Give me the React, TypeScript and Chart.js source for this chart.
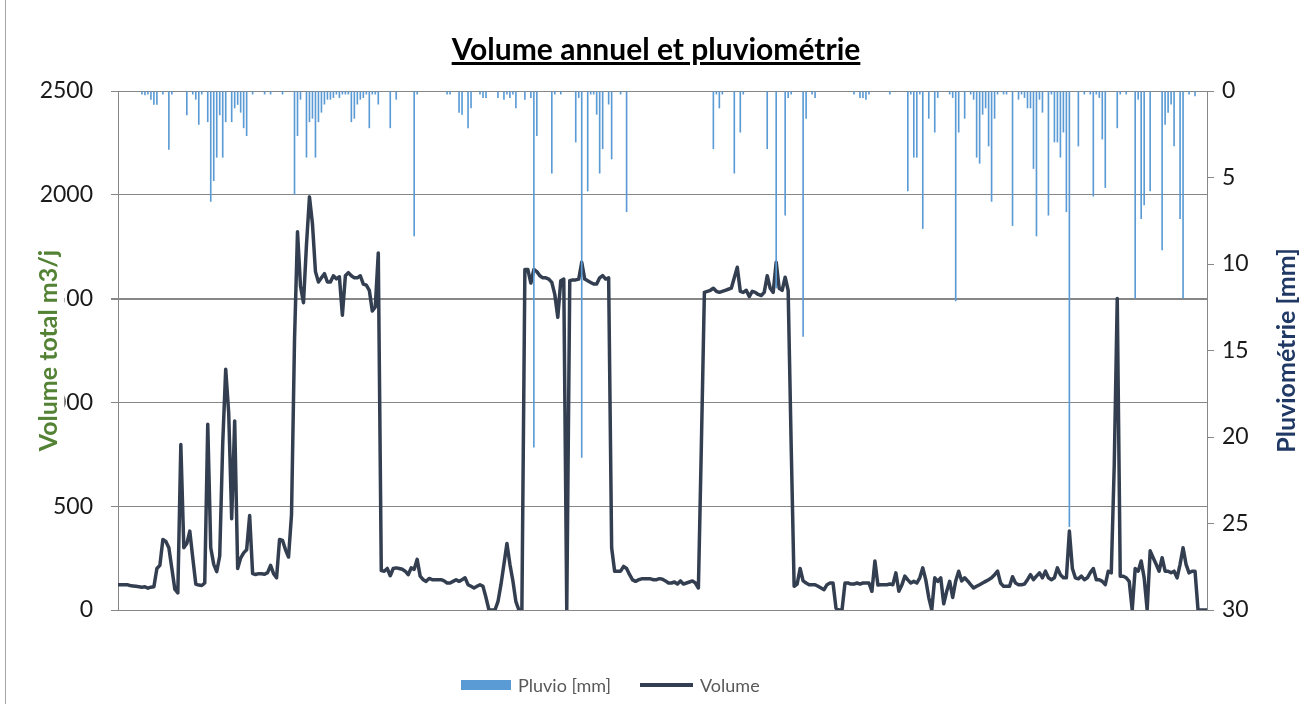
import React, { useEffect, useRef } from "react";
import { Chart, registerables } from "chart.js";

Chart.register(...registerables);

// Daily total volume (m3/j), one value per day of the year
const VOLUME: number[] = [
  122, 122, 122, 122, 118, 116, 114, 112, 110, 112, 105, 110, 112, 200, 215, 340, 330, 300, 200, 100,
  82, 797, 300, 320, 380, 250, 125, 120, 118, 130, 895, 300, 220, 185, 260, 800, 1160, 950, 440, 911,
  200, 250, 275, 290, 455, 175, 171, 175, 175, 172, 180, 215, 175, 155, 340, 335, 290, 255, 460, 1300,
  1822, 1560, 1480, 1760, 1990, 1860, 1630, 1580, 1600, 1620, 1580, 1580, 1610, 1595, 1605, 1420, 1610, 1625, 1610, 1600,
  1600, 1610, 1570, 1565, 1540, 1440, 1460, 1720, 190, 187, 200, 165, 200, 203, 200, 196, 187, 170, 203, 196,
  244, 163, 146, 138, 152, 146, 146, 146, 146, 140, 130, 130, 138, 146, 138, 146, 155, 122, 114, 106,
  114, 122, 114, 60, 0, 0, 0, 40, 122, 220, 320, 220, 140, 40, 0, 0, 1640, 1640, 1575, 1640,
  1630, 1610, 1600, 1600, 1594, 1578, 1520, 1410, 1586, 1594, 0, 1586, 1590, 1590, 1594, 1675, 1594, 1586, 1578, 1570,
  1570, 1600, 1611, 1594, 1600, 300, 187, 187, 187, 210, 200, 170, 145, 138, 146, 150, 150, 150, 150, 146,
  146, 151, 148, 140, 130, 130, 135, 125, 140, 125, 130, 135, 140, 130, 106, 800, 1530, 1535, 1540, 1550,
  1535, 1530, 1535, 1540, 1545, 1550, 1600, 1651, 1535, 1530, 1540, 1510, 1535, 1530, 1520, 1515, 1530, 1610, 1550, 1530,
  1675, 1550, 1540, 1603, 1540, 800, 114, 125, 200, 140, 130, 122, 122, 122, 114, 106, 98, 122, 130, 130,
  8, 0, 0, 130, 130, 125, 125, 130, 125, 130, 130, 130, 90, 236, 120, 122, 122, 122, 125, 122,
  179, 90, 120, 163, 145, 130, 138, 130, 155, 203, 145, 60, 0, 155, 138, 155, 30, 90, 138, 60,
  140, 187, 140, 155, 140, 122, 106, 114, 122, 130, 138, 146, 155, 170, 187, 130, 114, 114, 114, 160,
  130, 122, 122, 125, 146, 170, 146, 163, 179, 155, 187, 155, 146, 155, 203, 170, 155, 155, 380, 200,
  155, 150, 163, 146, 155, 180, 200, 146, 146, 138, 122, 187, 179, 700, 1500, 163, 163, 155, 138, 0,
  200, 187, 236, 155, 0, 285, 252, 220, 187, 252, 187, 187, 179, 187, 155, 220, 300, 220, 179, 187,
  187, 0, 0, 0, 0,
];

// Daily rainfall (mm), one value per day of the year
const PLUVIO: number[] = [
  0, 0, 0, 0, 0, 0, 0, 0, 0.2, 0.25, 0.2, 0.5, 0.8, 0.8, 0, 0.2, 0, 3.4, 0.2, 0,
  0, 0, 0, 1.4, 0, 0.2, 0.5, 1.95, 0.2, 0, 1.8, 6.4, 5.2, 3.85, 1.4, 3.85, 1.8, 0, 1.8, 1.0,
  0.8, 1.25, 2.15, 2.6, 0, 0.2, 0, 0, 0, 0.2, 0, 0.2, 0, 0, 0, 0.2, 0, 0, 0, 6.0,
  2.6, 0.5, 0, 3.85, 1.8, 1.6, 3.85, 1.8, 1.25, 0.78, 0.5, 0.5, 0.4, 0.2, 0.4, 0.2, 0.2, 0.2, 1.8, 1.6,
  0.78, 0.5, 0.4, 0.2, 2.15, 0.2, 0.2, 0.78, 0, 0, 0, 2.15, 0, 0.5, 0, 0, 0, 0, 0, 8.4,
  0.2, 0, 0, 0, 0, 0, 0, 0, 0, 0, 0.2, 0.2, 0, 0, 1.25, 1.37, 0, 2.15, 1.0, 0,
  0, 0.2, 0.4, 0.4, 0, 0, 0, 0.4, 0, 0.5, 0.2, 0.4, 0.2, 1.0, 0, 0, 0.5, 0, 0.4, 20.6,
  2.6, 0, 0, 0, 0, 4.77, 0.2, 0, 0.2, 0, 0, 0, 0, 2.97, 0.4, 21.2, 0, 5.8, 0.2, 0.2,
  1.37, 4.77, 3.36, 0, 0.78, 3.95, 0, 0, 0.2, 0, 7.0, 0, 0, 0, 0, 0, 0, 0, 0, 0,
  0, 0, 0, 0, 0, 0, 0, 0, 0, 0, 0, 0, 0, 0, 0, 0, 0, 0, 0, 3.36,
  0.2, 1.0, 0.2, 0, 0, 0, 4.77, 0, 2.4, 0.2, 0, 0, 0, 0, 0, 0, 0, 3.36, 0, 0,
  11.4, 0, 0, 7.2, 0.4, 0.2, 0, 0, 0, 14.2, 1.6, 0, 0.2, 0.4, 0, 0, 0, 0, 0, 0,
  0, 0, 0, 0, 0, 0, 0.2, 0, 0.4, 0.4, 0.5, 0.2, 0, 0, 0, 0, 0, 0, 0.2, 0,
  0, 0, 0, 0, 5.8, 0.2, 3.85, 3.85, 0.2, 7.97, 0, 1.6, 0, 2.4, 0.4, 0, 0, 0, 0.2, 0.4,
  12.15, 2.4, 0, 1.6, 0, 0.2, 0.5, 3.85, 4.2, 1.37, 1.0, 3.2, 6.4, 1.6, 0.2, 0, 0.2, 0.2, 0, 7.8,
  0, 0.5, 0.2, 0.4, 1.0, 1.0, 4.5, 8.4, 0.5, 1.25, 0, 7.2, 0.2, 2.97, 2.97, 3.85, 2.4, 7.0, 25.2, 0,
  0, 3.2, 0, 0.2, 0, 0.2, 6.1, 0.2, 0.4, 2.8, 5.6, 0, 0, 0, 2.15, 0.2, 0, 0.2, 0, 0,
  12.0, 0.5, 7.4, 6.6, 0, 5.8, 0, 0, 0, 9.2, 1.95, 1.25, 0.78, 3.2, 0, 7.4, 12.0, 0, 0.2, 0,
  0.3, 0, 0, 0, 0,
];

const DAYS: string[] = VOLUME.map((_, i) => String(i + 1));

const VOLUME_MIN = 0;
const VOLUME_MAX = 2500;
const VOLUME_STEP = 500;
const PLUVIO_MIN = 0;
const PLUVIO_MAX = 30;
const PLUVIO_STEP = 5;

const FONT = "Lato, 'Open Sans', sans-serif";
const GRID = "#878787";

export default function App() {
  const ref = useRef<HTMLCanvasElement | null>(null);

  useEffect(() => {
    document.body.style.margin = "0";
    const canvas = ref.current;
    if (!canvas) return;

    const axisTitles = {
      id: "axisTitles",
      afterDraw(chart: any) {
        const ctx = chart.ctx as CanvasRenderingContext2D;
        const { top, bottom } = chart.chartArea;
        const cy = (top + bottom) / 2;
        ctx.save();
        ctx.font = `bold 25px ${FONT}`;
        ctx.textAlign = "center";
        ctx.textBaseline = "middle";
        // left title (its box hides part of the tick labels, as in the source)
        ctx.save();
        ctx.translate(47.5, cy);
        ctx.rotate(-Math.PI / 2);
        const t1 = "Volume total m3/j";
        const w1 = ctx.measureText(t1).width;
        ctx.fillStyle = "#ffffff";
        ctx.fillRect(-w1 / 2 - 4, -20, w1 + 8, 37);
        ctx.fillStyle = "#548235";
        ctx.fillText(t1, 0, 1);
        ctx.restore();
        // right title
        ctx.save();
        ctx.translate(1286, cy);
        ctx.rotate(-Math.PI / 2);
        ctx.fillStyle = "#1F3864";
        ctx.fillText("Pluviométrie [mm]", 0, 1);
        ctx.restore();
        ctx.restore();
      },
    };

    const chart = new Chart(canvas, {
      type: "bar",
      data: {
        labels: DAYS,
        datasets: [
          {
            type: "line",
            label: "Volume",
            data: VOLUME,
            yAxisID: "y",
            borderColor: "#333F50",
            backgroundColor: "#333F50",
            borderWidth: 3.5,
            pointRadius: 0,
            tension: 0,
            borderJoinStyle: "round",
            order: 1,
          } as any,
          {
            type: "bar",
            label: "Pluvio [mm]",
            data: PLUVIO,
            yAxisID: "y1",
            backgroundColor: "#5B9BD5",
            borderWidth: 0,
            barPercentage: 0.55,
            categoryPercentage: 1,
            order: 0,
          } as any,
        ],
      },
      options: {
        animation: false,
        responsive: false,
        maintainAspectRatio: false,
        layout: { padding: { top: 91, bottom: 94, left: 0, right: 0 } },
        plugins: {
          legend: { display: false },
          title: { display: false },
          tooltip: { enabled: false },
        },
        scales: {
          x: {
            type: "category",
            offset: false,
            grid: { display: false },
            ticks: { display: false },
            border: { display: true, color: GRID, width: 1 },
            afterFit: (s: any) => {
              s.height = 0;
            },
          },
          y: {
            position: "left",
            min: VOLUME_MIN,
            max: VOLUME_MAX,
            ticks: {
              stepSize: VOLUME_STEP,
              font: { family: FONT, size: 23 },
              color: "#1a1a1a",
              padding: 18,
              callback: (v: any) => String(v),
            },
            grid: {
              color: GRID,
              lineWidth: (c: any) => (c.tick && c.tick.value === 1500 ? 2 : 1),
              tickLength: 7,
            },
            border: { color: GRID, width: 1 },
            afterFit: (s: any) => {
              s.width = 118;
            },
          },
          y1: {
            position: "right",
            reverse: true,
            min: PLUVIO_MIN,
            max: PLUVIO_MAX,
            ticks: {
              stepSize: PLUVIO_STEP,
              font: { family: FONT, size: 23 },
              color: "#1a1a1a",
              padding: 8,
              callback: (v: any) => String(v),
            },
            grid: { drawOnChartArea: false, color: GRID, tickLength: 7 },
            border: { color: GRID, width: 1 },
            afterFit: (s: any) => {
              s.width = 99;
            },
          },
        },
      },
      plugins: [axisTitles],
    });
    return () => chart.destroy();
  }, []);

  return (
    <div style={{ position: "relative", width: 1306, height: 704, background: "#fff", overflow: "hidden" }}>
      <canvas ref={ref} width={1306} height={704} style={{ position: "absolute", left: 0, top: 0, width: 1306, height: 704 }} />
      <div style={{ position: "absolute", left: 5, top: 0, width: 1, height: 704, background: "#a6a6a6" }} />
      <div
        style={{
          position: "absolute",
          left: 656,
          top: 30,
          transform: "translateX(-50%)",
          whiteSpace: "nowrap",
          font: `bold 30px ${FONT}`,
          textDecoration: "underline",
          color: "#000",
        }}
      >
        Volume annuel et pluviométrie
      </div>
      <div style={{ position: "absolute", left: 461, top: 680, width: 50, height: 10, background: "#5B9BD5" }} />
      <div style={{ position: "absolute", left: 518, top: 674, font: `18px ${FONT}`, color: "#595959", whiteSpace: "nowrap" }}>
        Pluvio [mm]
      </div>
      <div style={{ position: "absolute", left: 640, top: 683, width: 53, height: 4, background: "#333F50" }} />
      <div style={{ position: "absolute", left: 700, top: 674, font: `18px ${FONT}`, color: "#595959", whiteSpace: "nowrap" }}>
        Volume
      </div>
    </div>
  );
}
